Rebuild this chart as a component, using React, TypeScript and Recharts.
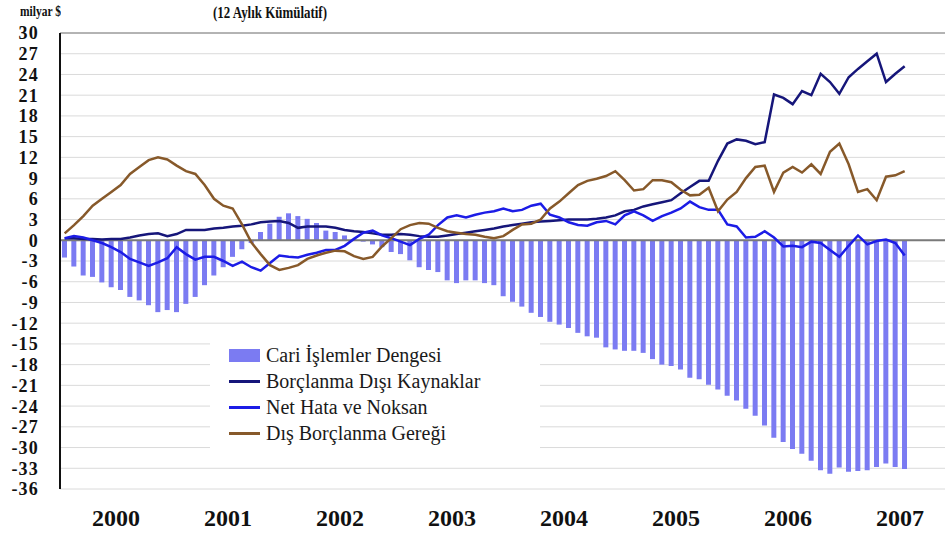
import React from 'react';
import { ComposedChart, Bar, Line, XAxis, YAxis, CartesianGrid, ReferenceLine } from 'recharts';

// Years on the axis (monthly data, Jan 2000 – Jul 2007, 12-month cumulative, billion $)
const years = ['2000', '2001', '2002', '2003', '2004', '2005', '2006', '2007'];

// Cari İşlemler Dengesi (bars)
const cariIslemler = [
  -2.5, -3.8, -5.1, -5.3, -6.1, -6.8, -7.2, -8.2, -8.7, -9.4, -10.4, -10.1,
  -10.4, -9.2, -8.2, -6.5, -5.1, -3.9, -2.4, -1.3, -0.4, 1.2, 2.4, 3.4,
  3.9, 3.5, 3.1, 2.5, 1.4, 1.2, 0.7, 0.2, -0.2, -0.6, -1.0, -1.7,
  -2.0, -2.9, -3.9, -4.3, -4.6, -5.8, -6.2, -5.8, -5.8, -6.2, -6.5, -8.1,
  -8.9, -9.6, -10.5, -11.1, -11.8, -12.2, -12.7, -13.4, -13.9, -14.1, -15.5, -15.8,
  -16.0, -16.0, -16.3, -17.2, -18.0, -18.2, -18.7, -19.9, -20.1, -20.9, -21.6, -22.5,
  -23.2, -24.4, -25.4, -26.8, -28.6, -29.2, -30.2, -30.9, -31.9, -33.3, -33.8, -32.9,
  -33.5, -33.4, -33.3, -32.8, -32.3, -32.8, -33.1,
];

// Borçlanma Dışı Kaynaklar
const borclanmaDisi = [
  0.3, 0.3, 0.2, 0.2, 0.1, 0.2, 0.2, 0.4, 0.7, 0.9, 1.0, 0.6,
  0.9, 1.5, 1.5, 1.5, 1.7, 1.8, 2.0, 2.1, 2.3, 2.6, 2.7, 2.8,
  2.5, 1.8, 2.0, 2.0, 2.0, 1.8, 1.5, 1.3, 1.2, 1.0, 0.8, 0.8,
  0.9, 0.8, 0.6, 0.5, 0.5, 0.7, 0.9, 1.1, 1.3, 1.5, 1.7, 2.0,
  2.2, 2.4, 2.6, 2.7, 2.8, 2.9, 3.0, 3.0, 3.0, 3.1, 3.3, 3.6,
  4.2, 4.4, 4.9, 5.2, 5.5, 5.8, 6.8, 7.7, 8.6, 8.6, 11.5, 14.0,
  14.6, 14.4, 13.9, 14.2, 21.1, 20.6, 19.7, 21.6, 21.0, 24.1, 22.9, 21.2,
  23.6, 24.8, 25.9, 27.0, 22.9, 24.1, 25.2,
];

// Net Hata ve Noksan
const netHata = [
  0.3, 0.6, 0.4, 0.0, -0.4, -1.0, -1.7, -2.7, -3.2, -3.7, -3.2, -2.6,
  -1.0, -2.0, -2.8, -2.4, -2.4, -3.0, -3.7, -3.1, -3.9, -4.4, -3.3, -2.2,
  -2.4, -2.5, -2.1, -1.8, -1.4, -1.4, -0.8, 0.2, 1.1, 1.4, 0.7, 0.3,
  -0.2, -0.7, 0.2, 0.8, 2.2, 3.3, 3.6, 3.3, 3.7, 4.0, 4.2, 4.6,
  4.2, 4.4, 5.0, 5.3, 3.7, 3.3, 2.6, 2.2, 2.1, 2.6, 2.8, 2.3,
  3.6, 4.2, 3.6, 2.8, 3.5, 4.0, 4.6, 5.6, 4.8, 4.4, 4.4, 2.3,
  2.0, 0.4, 0.5, 1.3, 0.4, -0.9, -0.8, -1.0, -0.2, -0.4, -1.4, -2.4,
  -0.8, 0.7, -0.6, -0.1, 0.1, -0.4, -2.2,
];

// Dış Borçlanma Gereği
const disBorclanma = [
  1.0, 2.2, 3.5, 5.0, 6.0, 7.0, 8.0, 9.6, 10.6, 11.6, 12.0, 11.7,
  10.8, 10.0, 9.6, 8.0, 6.0, 5.0, 4.6, 2.3, -0.3, -2.0, -3.6, -4.3,
  -4.0, -3.6, -2.7, -2.2, -1.8, -1.5, -1.6, -2.3, -2.7, -2.4, -0.9, 0.3,
  1.6, 2.2, 2.5, 2.4, 1.8, 1.3, 1.1, 0.9, 0.8, 0.5, 0.3, 0.6,
  1.5, 2.3, 2.4, 3.0, 4.6, 5.6, 6.8, 8.0, 8.6, 8.9, 9.3, 10.0,
  8.7, 7.2, 7.4, 8.7, 8.7, 8.4, 7.3, 6.5, 6.6, 7.6, 4.2, 5.9,
  7.0, 9.0, 10.6, 10.8, 7.0, 9.8, 10.6, 9.8, 11.0, 9.6, 12.8, 14.0,
  11.0, 7.0, 7.4, 5.8, 9.2, 9.4, 10.0,
];

const yTicks = [-36, -33, -30, -27, -24, -21, -18, -15, -12, -9, -6, -3, 0, 3, 6, 9, 12, 15, 18, 21, 24, 27, 30];
const gridTicks = [0, 12, 24, 36, 48, 60, 72, 84, 96];
const labelTicks = [6, 18, 30, 42, 54, 66, 78, 90];

const data = cariIslemler.map((v, i) => ({
  m: i + 0.5,
  cari: v,
  bdk: borclanmaDisi[i],
  nhn: netHata[i],
  dbg: disBorclanma[i],
}));

const COLORS = {
  cari: '#7b7bf2',
  bdk: '#16167a',
  nhn: '#1c1ce6',
  dbg: '#87592a',
};

const legendItems = [
  { label: 'Cari İşlemler Dengesi', color: COLORS.cari, type: 'bar' },
  { label: 'Borçlanma Dışı Kaynaklar', color: COLORS.bdk, type: 'line' },
  { label: 'Net Hata ve Noksan', color: COLORS.nhn, type: 'line' },
  { label: 'Dış Borçlanma Gereği', color: COLORS.dbg, type: 'line' },
];

const SERIF = 'Liberation Serif';

const YTick = (props: any) => {
  const { x, y, payload } = props;
  return (
    <text
      x={x}
      y={y}
      dy="0.36em"
      textAnchor="end"
      fill="#111"
      fontSize={18}
      fontWeight={700}
      fontFamily={SERIF}
      letterSpacing={1.2}
    >
      {payload.value}
    </text>
  );
};

export default function App() {
  return (
    <div
      style={{
        position: 'absolute',
        left: 0,
        top: 0,
        width: 945,
        height: 537,
        overflow: 'hidden',
        background: '#fff',
        fontFamily: SERIF,
      }}
    >
      <ComposedChart
        width={970}
        height={537}
        data={data}
        margin={{ top: 33, right: 14, bottom: 0, left: 0 }}
      >
        <CartesianGrid stroke="#dadada" strokeWidth={1} vertical={true} horizontal={true} />
        <XAxis
          xAxisId={0}
          dataKey="m"
          type="number"
          domain={[0, 96]}
          ticks={gridTicks}
          tick={false}
          tickLine={false}
          height={0}
          axisLine={{ stroke: '#9a9a9a', strokeWidth: 1.5 }}
        />
        <XAxis
          xAxisId="lbl"
          dataKey="m"
          type="number"
          domain={[0, 96]}
          ticks={labelTicks}
          interval={0}
          tickFormatter={(v: number) => years[(v - 6) / 12]}
          tickLine={false}
          axisLine={false}
          height={48}
          tickMargin={14}
          tick={{ fill: '#111', fontSize: 24, fontWeight: 700, fontFamily: SERIF }}
        />
        <YAxis
          domain={[-36, 30]}
          ticks={yTicks}
          interval={0}
          width={60}
          tickLine={false}
          tickSize={6}
          tickMargin={15}
          axisLine={{ stroke: '#111', strokeWidth: 2 }}
          tick={<YTick />}
        />
        <ReferenceLine y={30} stroke="#a0a0a0" strokeWidth={1.5} />
        <Bar dataKey="cari" fill={COLORS.cari} barSize={5} isAnimationActive={false} />
        <ReferenceLine y={0} stroke="#7a7a7a" strokeWidth={2} />
        <Line type="linear" dataKey="bdk" stroke={COLORS.bdk} strokeWidth={2.5} dot={false} isAnimationActive={false} />
        <Line type="linear" dataKey="nhn" stroke={COLORS.nhn} strokeWidth={2.5} dot={false} isAnimationActive={false} />
        <Line type="linear" dataKey="dbg" stroke={COLORS.dbg} strokeWidth={2.5} dot={false} isAnimationActive={false} />
      </ComposedChart>

      <div
        style={{
          position: 'absolute',
          left: 20,
          top: 4,
          fontSize: 14,
          fontWeight: 700,
          color: '#111',
          transform: 'scaleX(0.82)',
          transformOrigin: 'left top',
          whiteSpace: 'nowrap',
        }}
      >
        milyar $
      </div>
      <div
        style={{
          position: 'absolute',
          left: 270,
          top: 3,
          fontSize: 17,
          fontWeight: 700,
          color: '#111',
          transform: 'translateX(-50%) scaleX(0.76)',
          whiteSpace: 'nowrap',
        }}
      >
        (12 Aylık Kümülatif)
      </div>

      <div
        style={{
          position: 'absolute',
          left: 210,
          top: 330,
          width: 330,
          height: 132,
          background: '#fff',
        }}
      >
        {legendItems.map((it, k) => (
          <div
            key={it.label}
            style={{
              position: 'absolute',
              left: 19,
              top: 12 + k * 26.3,
              height: 26,
              display: 'flex',
              alignItems: 'center',
              whiteSpace: 'nowrap',
            }}
          >
            <span
              style={{
                display: 'inline-block',
                width: 31,
                height: it.type === 'bar' ? 13 : 3,
                background: it.color,
                marginRight: 6,
              }}
            />
            <span style={{ fontSize: 20, color: '#1a1a1a', fontFamily: SERIF }}>{it.label}</span>
          </div>
        ))}
      </div>
    </div>
  );
}
